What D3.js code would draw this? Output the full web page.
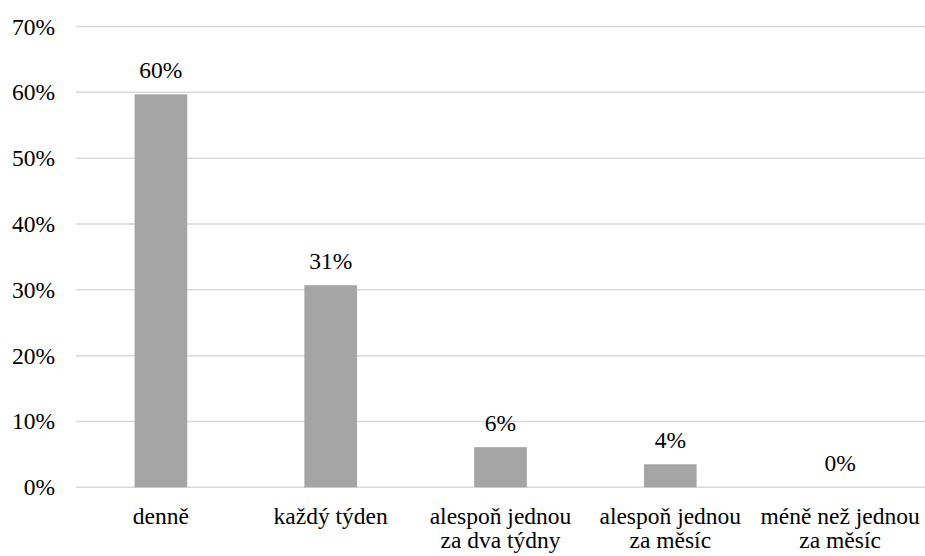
<!DOCTYPE html>
<html><head><meta charset="utf-8"><script src="https://cdn.jsdelivr.net/npm/d3@7"></script></head>
<body style="margin:0">
<svg id="chart" width="925" height="556"></svg>
<script>
const categories = [["denně"], ["každý týden"], ["alespoň jednou", "za dva týdny"], ["alespoň jednou", "za měsíc"], ["méně než jednou", "za měsíc"]];
const values = [0.597, 0.307, 0.061, 0.035, 0.0];
const valueLabels = ["60%", "31%", "6%", "4%", "0%"];
const yTicks = [0, 0.1, 0.2, 0.3, 0.4, 0.5, 0.6, 0.7];

(function () {
const svg = d3.select("#chart");
const plotLeft = 76, plotRight = 925, plotTop = 26.5, plotBottom = 487.3;
const fontSize = 23.5;
const fontFam = "Liberation Serif";

const x = d3.scaleBand().domain(d3.range(categories.length)).range([plotLeft, plotRight]).paddingInner(0.69).paddingOuter(0.345);
const y = d3.scaleLinear().domain([0, 0.7]).range([plotBottom, plotTop]);

svg.selectAll("line.grid").data(yTicks).join("line")
  .attr("class", "grid")
  .attr("x1", plotLeft).attr("x2", plotRight)
  .attr("y1", d => y(d)).attr("y2", d => y(d))
  .attr("stroke", "#d9d9d9").attr("stroke-width", 1.5);

svg.selectAll("rect.bar").data(values).join("rect")
  .attr("class", "bar")
  .attr("x", (d, i) => x(i)).attr("width", x.bandwidth())
  .attr("y", d => y(d)).attr("height", d => y(0) - y(d))
  .attr("fill", "#a5a5a5");

function styleText(sel) {
  return sel.attr("font-family", fontFam)
    .attr("font-size", fontSize)
    .style("font-family", fontFam, "important")
    .style("font-size", fontSize + "px", "important")
    .attr("fill", "#000");
}

styleText(svg.selectAll("text.ytick").data(yTicks).join("text")
  .attr("class", "ytick")
  .attr("x", 55).attr("y", d => y(d) + 8)
  .attr("text-anchor", "end"))
  .text(d => d3.format(".0%")(d));

styleText(svg.selectAll("text.vlabel").data(values).join("text")
  .attr("class", "vlabel")
  .attr("x", (d, i) => x(i) + x.bandwidth() / 2)
  .attr("y", d => y(d) - 16.5)
  .attr("text-anchor", "middle"))
  .text((d, i) => valueLabels[i]);

const cat = styleText(svg.selectAll("text.cat").data(categories).join("text")
  .attr("class", "cat")
  .attr("x", (d, i) => x(i) + x.bandwidth() / 2)
  .attr("y", 524)
  .attr("text-anchor", "middle"));
cat.selectAll("tspan").data(d => d).join("tspan")
  .attr("x", function () { return this.parentNode.getAttribute("x"); })
  .attr("dy", (d, i) => i === 0 ? 0 : 24)
  .text(d => d);
})();
</script>
</body>
</html>
